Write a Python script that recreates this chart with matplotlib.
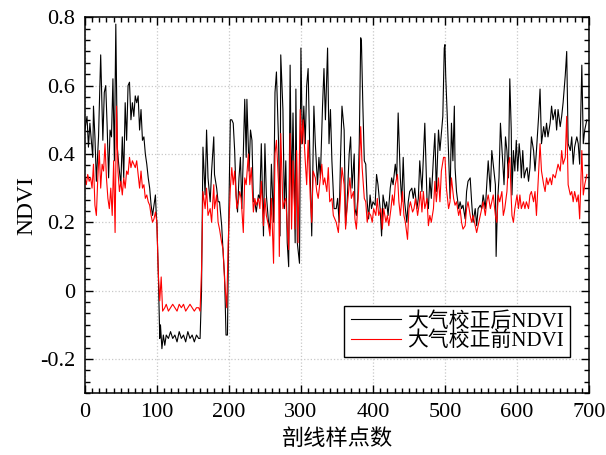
import matplotlib
matplotlib.use("Agg")
import matplotlib.pyplot as plt
from matplotlib.ticker import MultipleLocator, AutoMinorLocator

plt.rcParams['font.family'] = ['Liberation Serif', 'Noto Sans CJK SC']
plt.rcParams['axes.unicode_minus'] = True

# NDVI after atmospheric correction (black)
x_after = [0, 3, 5, 7, 9, 11, 12, 14, 16, 19, 22, 25, 27, 29, 31, 33, 35, 37, 39, 41,
           43, 45, 47, 50, 52, 54, 56, 58, 60, 62, 64, 66, 68, 70, 72, 74, 76, 78, 80, 82,
           84, 86, 88, 90, 92, 94, 96, 98, 99, 100, 102, 104, 105, 107, 109,
           111, 113, 116, 119, 122, 125, 128, 131, 134, 137, 140, 143, 146, 149, 152, 155, 158, 160,
           162, 164, 167, 169, 171, 174, 176, 179, 180, 183, 185, 187, 190, 192, 194, 196, 198,
           200, 202, 204, 206, 208, 210, 212, 214, 216, 218, 220, 222, 224, 225, 228, 230, 232, 234,
           236, 238, 241, 243, 245, 248, 250, 252, 255, 257, 259, 262, 264, 266, 269, 271, 272,
           275, 277, 279, 281, 283, 285, 287, 289, 292, 293, 295, 298, 300, 302, 304, 306, 308,
           310, 313, 315, 318, 320, 323, 325, 327, 330, 332, 334, 337, 339, 341, 343, 346,
           349, 351, 353, 355, 357, 360, 362, 364, 367, 369, 371, 374, 375, 377, 379, 381, 383,
           384, 386, 388, 390, 392, 394, 396, 398, 400, 403, 405, 407, 410, 412, 414, 417, 419,
           421, 424, 426, 428, 431, 433, 435, 438, 440, 442, 444, 447, 449, 451, 454, 456, 458,
           461, 463, 465, 468, 470, 472, 475, 477, 479, 481, 484, 486, 488, 491, 493, 495, 497,
           499, 500, 501, 503, 505, 507, 509, 511, 513, 514, 516, 519, 521, 523, 525, 528, 530,
           532, 535, 537, 539, 542, 544, 546, 549, 551, 553, 556, 558, 560, 563, 565, 567, 570,
           571, 573, 575, 577, 580, 582, 584, 586, 588, 590, 592, 593, 595, 597, 599, 601, 603,
           605, 606, 608, 610, 612, 614, 616, 618, 620, 623, 625, 627, 630, 632, 634, 637, 639,
           641, 643, 646, 648, 650, 653, 655, 657, 660, 662, 664, 667, 669, 671, 674, 676, 678,
           680, 683, 685, 687, 690, 692, 694, 697]
ndvi_after = [0.47, 0.51, 0.42, 0.49, 0.44, 0.39, 0.54, 0.45, 0.32, 0.45, 0.69, 0.44, 0.58, 0.60, 0.48, 0.33, 0.47, 0.45, 0.62, 0.38,
              0.78, 0.42, 0.37, 0.31, 0.45, 0.33, 0.55, 0.44, 0.60, 0.61, 0.50, 0.55, 0.51, 0.57, 0.55, 0.57, 0.47, 0.53, 0.44, 0.45,
              0.40, 0.37, 0.33, 0.30, 0.25, 0.22, 0.25, 0.28, 0.23, 0.20, 0.05, -0.14, -0.10, -0.17, -0.13,
              -0.16, -0.13, -0.14, -0.12, -0.14, -0.13, -0.15, -0.12, -0.14, -0.13, -0.15, -0.12, -0.14, -0.13, -0.15, -0.13, -0.14, -0.14,
              0.00, 0.42, 0.28, 0.47, 0.33, 0.26, 0.35, 0.45, 0.34, 0.30, 0.26, 0.26, 0.19, 0.11, 0.04, -0.13, -0.13,
              0.24, 0.50, 0.50, 0.49, 0.41, 0.28, 0.23, 0.33, 0.39, 0.24, 0.40, 0.56, 0.39, 0.56, 0.35, 0.47, 0.44, 0.26,
              0.26, 0.23, 0.28, 0.27, 0.43, 0.16, 0.43, 0.28, 0.20, 0.18, 0.37, 0.20, 0.58, 0.64, 0.43, 0.16, 0.69,
              0.53, 0.24, 0.38, 0.14, 0.07, 0.66, 0.27, 0.52, 0.14, 0.59, 0.14, 0.08, 0.71, 0.43, 0.54, 0.43, 0.60,
              0.65, 0.33, 0.16, 0.54, 0.43, 0.31, 0.39, 0.33, 0.54, 0.65, 0.50, 0.71, 0.43, 0.53, 0.38, 0.24,
              0.24, 0.27, 0.20, 0.39, 0.54, 0.47, 0.19, 0.25, 0.40, 0.45, 0.30, 0.40, 0.24, 0.22, 0.27, 0.43, 0.74,
              0.73, 0.54, 0.38, 0.37, 0.26, 0.21, 0.28, 0.24, 0.26, 0.25, 0.34, 0.31, 0.24, 0.16, 0.28, 0.24, 0.26,
              0.22, 0.30, 0.33, 0.31, 0.37, 0.33, 0.52, 0.33, 0.26, 0.39, 0.26, 0.20, 0.26, 0.29, 0.30, 0.27, 0.30,
              0.24, 0.27, 0.38, 0.29, 0.39, 0.49, 0.27, 0.24, 0.33, 0.27, 0.39, 0.46, 0.29, 0.47, 0.41, 0.46, 0.51,
              0.71, 0.72, 0.63, 0.52, 0.40, 0.27, 0.49, 0.38, 0.54, 0.36, 0.29, 0.24, 0.26, 0.24, 0.25, 0.21, 0.29,
              0.32, 0.33, 0.26, 0.20, 0.24, 0.19, 0.24, 0.25, 0.24, 0.28, 0.24, 0.31, 0.38, 0.29, 0.41, 0.37, 0.31,
              0.10, 0.26, 0.33, 0.49, 0.38, 0.31, 0.45, 0.41, 0.33, 0.62, 0.47, 0.28, 0.41, 0.35, 0.44, 0.35, 0.43,
              0.38, 0.33, 0.41, 0.33, 0.35, 0.36, 0.32, 0.36, 0.45, 0.41, 0.35, 0.41, 0.51, 0.59, 0.43, 0.48, 0.45,
              0.49, 0.45, 0.49, 0.54, 0.50, 0.53, 0.47, 0.53, 0.48, 0.51, 0.55, 0.63, 0.70, 0.43, 0.41, 0.45, 0.37,
              0.42, 0.45, 0.43, 0.37, 0.66, 0.43, 0.47, 0.50]

# NDVI before atmospheric correction (red)
x_before = [0, 2, 4, 6, 8, 10, 12, 14, 16, 18, 20, 22, 24, 26, 28, 30, 32, 34, 36, 38,
            40, 42, 44, 46, 48, 50, 52, 54, 56, 58, 60, 62, 64, 66, 68, 70, 72, 74, 76, 78,
            80, 82, 84, 86, 88, 90, 92, 94, 96, 98, 100, 102, 104, 106, 108,
            111, 113, 116, 119, 122, 125, 128, 131, 134, 137, 140, 143, 146, 149, 152, 155, 158, 160,
            162, 164, 167, 169, 171, 174, 176, 179, 180, 183, 185, 187, 190, 192, 194, 197, 199,
            202, 204, 206, 208, 211, 213, 215, 217, 220, 222, 224, 227, 229, 231, 234,
            236, 238, 241, 243, 245, 248, 250, 252, 255, 257, 259, 262, 264, 266, 269, 270, 272,
            275, 277, 279, 281, 283, 285, 287, 289, 292, 294, 296, 299, 301, 303, 306, 308, 310,
            313, 315, 317, 320, 322, 324, 326, 329, 331, 333, 336, 338, 340, 343, 345, 347,
            349, 352, 354, 357, 360, 362, 364, 368, 370, 373, 375, 377, 380, 383, 385, 388, 390,
            392, 394, 397, 399, 401, 404, 406, 408, 411, 413, 415, 418, 420, 422, 425, 427, 429,
            431, 434, 436, 438, 441, 443, 445, 448, 450, 452, 455, 457, 459, 462, 464,
            466, 468, 470, 472, 475, 477, 479, 481, 484, 486, 488, 491, 493, 495, 498, 500, 502,
            505, 507, 509, 512, 514, 516, 519, 521, 523, 525, 528, 530, 532, 535, 537, 539, 542,
            544, 546, 549, 551, 553, 556, 558, 560, 563, 565, 567, 570, 572, 574, 576, 579, 581,
            583, 586, 588, 590, 592, 593, 595, 597, 600, 602, 604, 606, 609, 611, 613, 616, 618,
            620, 623, 625, 627, 630, 632, 634, 637, 639, 641, 643, 646, 648, 650, 653, 655, 657,
            660, 662, 664, 667, 669, 671, 674, 676, 678, 680, 683, 685, 687, 690, 692, 694, 697]
ndvi_before = [0.33, 0.31, 0.34, 0.32, 0.33, 0.30, 0.37, 0.25, 0.22, 0.33, 0.41, 0.30, 0.37, 0.35, 0.43, 0.33, 0.27, 0.24, 0.30, 0.22,
               0.38, 0.17, 0.54, 0.35, 0.29, 0.32, 0.28, 0.33, 0.30, 0.35, 0.34, 0.39, 0.36, 0.38, 0.37, 0.36, 0.38, 0.34, 0.30, 0.35,
               0.30, 0.31, 0.27, 0.28, 0.26, 0.25, 0.22, 0.20, 0.21, 0.23, 0.20, 0.05, -0.03, 0.04, -0.06,
               -0.05, -0.04, -0.06, -0.05, -0.04, -0.05, -0.06, -0.04, -0.05, -0.04, -0.06, -0.05, -0.04, -0.05, -0.06, -0.05, -0.05, -0.06,
               0.06, 0.29, 0.24, 0.30, 0.22, 0.24, 0.20, 0.31, 0.24, 0.28, 0.20, 0.18, 0.14, 0.12, 0.03, -0.05, 0.14,
               0.30, 0.36, 0.31, 0.35, 0.24, 0.26, 0.29, 0.27, 0.17, 0.33, 0.31, 0.40, 0.31, 0.36, 0.23,
               0.27, 0.25, 0.27, 0.24, 0.32, 0.19, 0.27, 0.22, 0.19, 0.16, 0.27, 0.08, 0.40, 0.44, 0.31, 0.10, 0.46,
               0.24, 0.26, 0.27, 0.19, 0.12, 0.46, 0.18, 0.38, 0.18, 0.41, 0.14, 0.53, 0.43, 0.50, 0.38, 0.31, 0.44,
               0.27, 0.20, 0.35, 0.33, 0.29, 0.27, 0.31, 0.37, 0.31, 0.33, 0.29, 0.36, 0.26, 0.27, 0.22, 0.21,
               0.20, 0.17, 0.24, 0.36, 0.31, 0.18, 0.24, 0.33, 0.27, 0.29, 0.21, 0.18, 0.29, 0.48, 0.36, 0.27, 0.26,
               0.20, 0.23, 0.22, 0.20, 0.24, 0.22, 0.27, 0.22, 0.24, 0.18, 0.24, 0.20, 0.22, 0.19, 0.24, 0.28, 0.25,
               0.31, 0.34, 0.26, 0.22, 0.29, 0.22, 0.20, 0.15, 0.24, 0.26, 0.23, 0.24, 0.27, 0.22, 0.25,
               0.29, 0.23, 0.29, 0.24, 0.27, 0.19, 0.22, 0.20, 0.24, 0.32, 0.26, 0.33, 0.26, 0.35, 0.39, 0.39, 0.30,
               0.24, 0.26, 0.33, 0.27, 0.25, 0.26, 0.22, 0.24, 0.20, 0.18, 0.19, 0.24, 0.26, 0.22, 0.20, 0.22, 0.19,
               0.17, 0.19, 0.22, 0.24, 0.26, 0.22, 0.26, 0.28, 0.24, 0.26, 0.28, 0.22, 0.20, 0.28, 0.26, 0.29, 0.22,
               0.24, 0.29, 0.37, 0.39, 0.27, 0.22, 0.20, 0.24, 0.28, 0.24, 0.28, 0.24, 0.26, 0.24, 0.26, 0.24, 0.28,
               0.29, 0.26, 0.29, 0.22, 0.35, 0.43, 0.35, 0.31, 0.29, 0.33, 0.31, 0.33, 0.31, 0.34, 0.33, 0.35, 0.37,
               0.35, 0.41, 0.37, 0.39, 0.51, 0.31, 0.28, 0.29, 0.26, 0.29, 0.26, 0.28, 0.21, 0.41, 0.28, 0.31, 0.34]

fig = plt.figure(figsize=(6.06, 4.55), dpi=100)
ax = fig.add_axes([0.140, 0.136, 0.832, 0.826])

ax.plot(x_after, ndvi_after, color='black', lw=0.8, label='大气校正后NDVI')
ax.plot(x_before, ndvi_before, color='red', lw=0.8, label='大气校正前NDVI')

ax.set_xlim(0, 700)
ax.set_ylim(-0.3, 0.8)
ax.xaxis.set_major_locator(MultipleLocator(100))
ax.xaxis.set_minor_locator(AutoMinorLocator(10))
ax.yaxis.set_major_locator(MultipleLocator(0.2))
ax.yaxis.set_minor_locator(AutoMinorLocator(6))
ax.set_yticks([-0.2, 0, 0.2, 0.4, 0.6, 0.8])
ax.set_yticklabels(['-0.2', '0', '0.2', '0.4', '0.6', '0.8'])
ax.tick_params(which='both', direction='in', top=True, right=True, labelsize=16, width=1)
ax.tick_params(which='major', length=6, pad=7)
ax.tick_params(which='minor', length=3.5)
ax.grid(True, which='major', linestyle=':', color='#c8c8c8', lw=0.9)
for s in ax.spines.values():
    s.set_linewidth(1.1)

ax.set_xlabel('剖线样点数', fontsize=16, labelpad=5)
ax.set_ylabel('NDVI', fontsize=17, labelpad=2)

leg = ax.legend(loc='lower right', bbox_to_anchor=(0.962, 0.095), fontsize=15,
                fancybox=False, edgecolor='black', framealpha=1, handlelength=2.4,
                borderpad=0.3, labelspacing=0.0, handletextpad=0.3, borderaxespad=0)
leg.get_frame().set_linewidth(1.0)

fig.savefig('out.png', dpi=100)
